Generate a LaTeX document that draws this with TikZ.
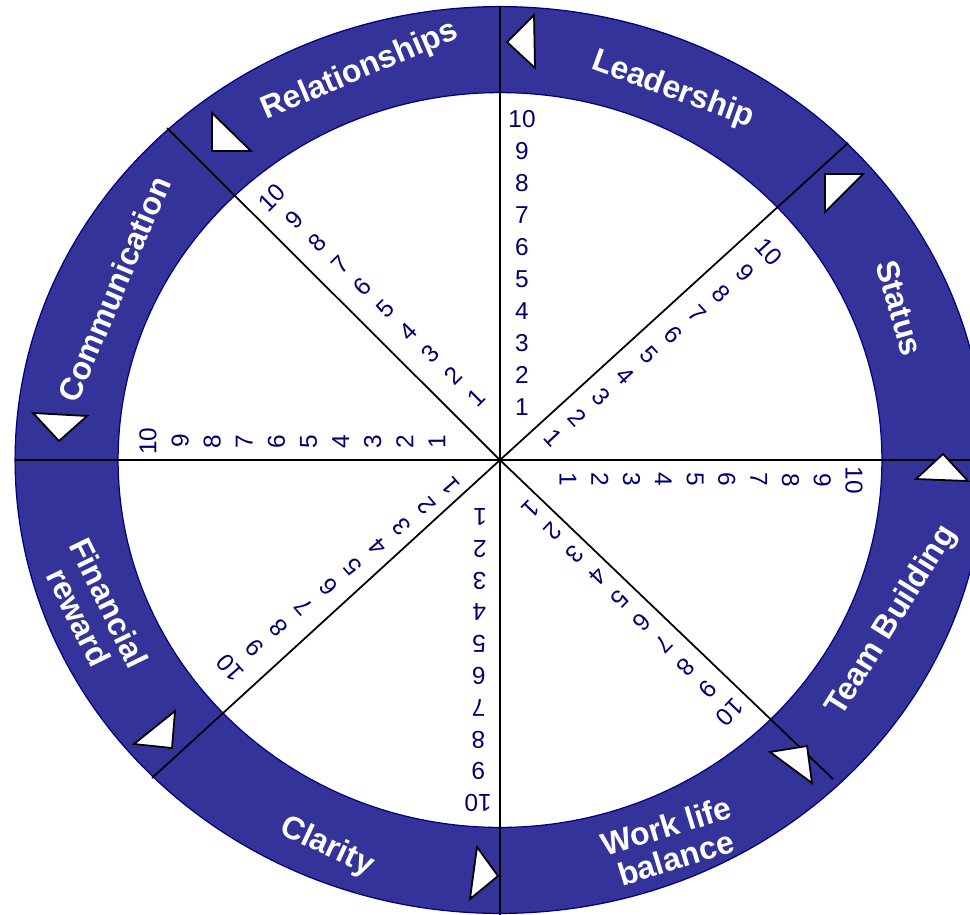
\documentclass[tikz,border=0pt]{standalone}
\usepackage{fontspec}
\setmainfont{Liberation Sans}
\usetikzlibrary{calc}
\definecolor{band}{RGB}{51,51,153}
\definecolor{navy}{RGB}{0,0,128}
\definecolor{numc}{RGB}{0,0,110}
\begin{document}
\begin{tikzpicture}[x=0.02cm,y=-0.02cm,
  spoke/.style={draw=black,line width=1pt},
  flag/.style={draw=black,fill=white,line width=1pt,line join=miter},
  num/.style={text=numc,inner sep=0pt,font=\fontsize{13.9pt}{15pt}\selectfont},
  seg/.style={text=white,inner sep=0pt,align=center,font=\fontsize{18.2pt}{19pt}\selectfont\bfseries}]
\useasboundingbox (0,0) rectangle (970,914);
\begin{scope}
\clip (0,0) rectangle (970,914);
\coordinate (c) at (500,460);
\path[fill=band,draw=navy,line width=0.7pt] (c) ellipse [x radius=9.7cm, y radius=9.07cm];
\path[fill=white,draw=navy,line width=0.7pt] (c) ellipse [x radius=7.64cm, y radius=7.35cm];
% spokes
\coordinate (pW) at (15,460);
\coordinate (pE) at (990,460);
\coordinate (pN) at (500,6);
\coordinate (pS) at (500,920);
\coordinate (pNE) at (848,143);
\coordinate (pSE) at (833,779);
\coordinate (pSW) at (152,778);
\coordinate (pNW) at (167,128);
\draw[spoke] (pW) -- (pE);
\draw[spoke] (pN) -- (pS);
\draw[spoke] (c) -- (pNE);
\draw[spoke] (c) -- (pSE);
\draw[spoke] (c) -- (pSW);
\draw[spoke] (c) -- (pNW);
% triangles
\draw[flag] (507,42) -- (534,15) -- (535,68) -- cycle;
\draw[flag] (825,174) -- (863,174) -- (825,212) -- cycle;
\draw[flag] (943,454) -- (916,479) -- (968,481) -- cycle;
\draw[flag] (770,752) -- (807,746) -- (812,783) -- cycle;
\draw[flag] (477,847) -- (498,876) -- (470,899) -- cycle;
\draw[flag] (175,711) -- (134,744) -- (172,748) -- cycle;
\draw[flag] (33,413) -- (87,416) -- (59,441) -- cycle;
\draw[flag] (212,113) -- (212,151) -- (251,151) -- cycle;
% scale numbers
\foreach \nm/\ax/\ay/\bx/\by/\r in {N/522/407/522/119/0, NE/553/438/769/252/-47.5, E/568/479/854/480/-90, SE/531/509/730/712/-134, S/480/517/478/803/180, SW/451/486/230/668/131, W/437/442/148/441/90, NW/476/398/272/198/45}{
  \foreach \i in {1,...,10}{
    \pgfmathsetmacro\tt{(\i-1)/9}
    \node[num,rotate=\r] (n\nm\i) at ($(\ax,\ay)!\tt!(\bx,\by)$) {\i};
  }
}
% segment labels
\node[seg,rotate=23] (lRel) at (360,71) {Relationships};
\node[seg,rotate=-20] (lLead) at (673,90) {Leadership};
\node[seg,rotate=-74] (lStat) at (900,308) {Status};
\node[seg,rotate=58] (lTeam) at (892,621) {Team Building};
\node[seg,rotate=17] (lWork) at (671,842) {Work life\\balance};
\node[seg,rotate=-25] (lClar) at (327,847) {Clarity};
\node[seg,rotate=-64] (lFin) at (94,610) {Financial\\reward};
\node[seg,rotate=67] (lComm) at (114,289) {Communication};
\end{scope}
\end{tikzpicture}
\end{document}
